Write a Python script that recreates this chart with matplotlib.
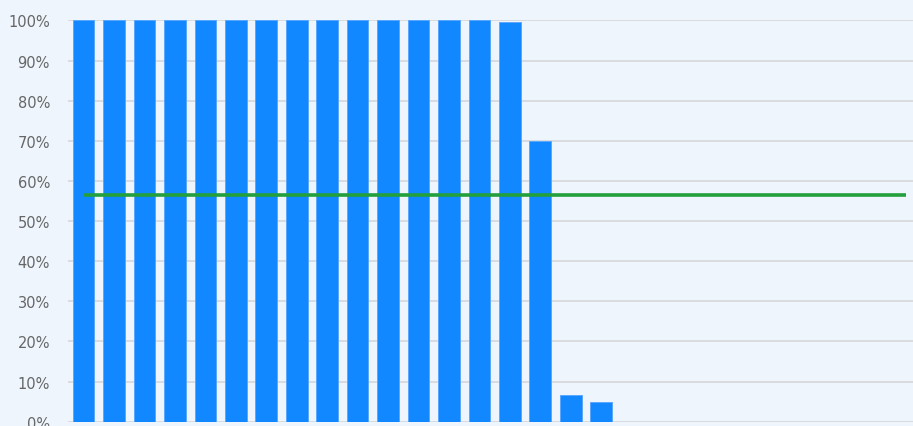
import numpy as np
import matplotlib
matplotlib.use("Agg")
from matplotlib import pyplot as plt
from matplotlib.ticker import PercentFormatter

# data
categories = [str(i) for i in range(1, 29)]
share = [100, 100, 100, 100, 100, 100, 100, 100, 100, 100, 100, 100, 100, 100, 99.6,
         70, 6.7, 4.8] + [np.nan] * 10
average = 56.4
yticks = list(range(0, 101, 10))

bg = "#eef5fd"
fig = plt.figure(figsize=(9.13, 4.27), dpi=100, facecolor=bg)
ax = fig.add_axes([0.0745, 0.01, 0.9255, 0.9397])
ax.set_facecolor(bg)

x = np.arange(len(categories))
ax.bar(x, share, width=0.71, color="#1188ff", edgecolor="#5aa8ff", linewidth=0.7, zorder=2)
ax.plot([x[0], x[-1]], [average, average], color="#23a03c", linewidth=2.6, zorder=3,
        solid_capstyle="butt")

ax.set_xlim(-0.51, 27.24)
ax.set_ylim(0, 100)
ax.set_yticks(yticks)
ax.yaxis.set_major_formatter(PercentFormatter(decimals=0))
ax.set_xticks([])
ax.grid(axis="y", color="#d9dbde", linewidth=1.4, zorder=0)
ax.set_axisbelow(True)
for s in ax.spines.values():
    s.set_visible(False)
ax.tick_params(axis="y", length=0, pad=13, labelsize=10.5, labelcolor="#666666")

fig.savefig("out.png", dpi=100, facecolor=bg)
